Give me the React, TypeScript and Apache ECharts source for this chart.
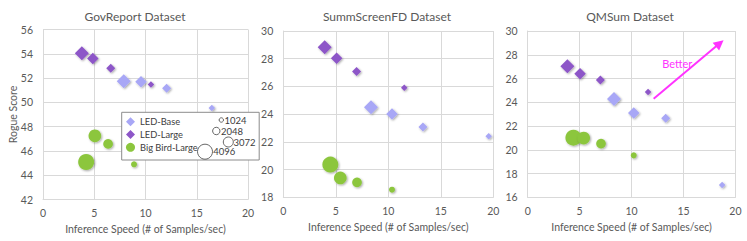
import React, { useEffect, useRef } from 'react';
import * as echarts from 'echarts';

const FONT = 'Lato';
const TXT = '#595959';
const GRIDC = '#d9d9d9';

const C_BASE = '#a8a7f6';
const C_LARGE = '#8d56c8';
const C_BB = '#8cc63e';

const SIZES = [4096, 3072, 2048, 1024];
const SERIES_NAMES = ['LED-Base', 'LED-Large', 'Big Bird-Large'];
const TITLES = ['GovReport Dataset', 'SummScreenFD Dataset', 'QMSum Dataset'];
const X_NAME = 'Inference Speed (# of Samples/sec)';
const Y_NAME = 'Rogue Score';
const Y_RANGES = [[42, 56], [18, 30], [16, 30]];

// GovReport
const govBase = [[7.88, 51.74], [9.56, 51.69], [12.06, 51.16], [16.47, 49.54]];
const govLarge = [[3.79, 54.05], [4.86, 53.62], [6.61, 52.81], [10.53, 51.47]];
const govBB = [[4.21, 45.09], [5.06, 47.24], [6.35, 46.58], [8.88, 44.9]];
// SummScreenFD
const ssBase = [[8.35, 24.49], [10.35, 24.01], [13.3, 23.07], [19.56, 22.4]];
const ssLarge = [[3.94, 28.82], [5.08, 28.03], [6.98, 27.07], [11.52, 25.91]];
const ssBB = [[4.48, 20.36], [5.43, 19.4], [7.02, 19.08], [10.35, 18.55]];
// QMSum
const qmBase = [[8.31, 24.28], [10.21, 23.1], [13.29, 22.65], [18.72, 17.04]];
const qmLarge = [[3.82, 27.03], [5.04, 26.41], [7.0, 25.88], [11.59, 24.87]];
const qmBB = [[4.4, 21.02], [5.39, 20.99], [7.06, 20.52], [10.21, 19.53]];

const BETTER_ARROW = [[12.13, 24.3], [18.49, 28.96]];
const BETTER_LABEL = [14.4, 27.3];
const BETTER_TEXT = 'Better';

const DIAMOND_PX: Record<number, number> = { 4096: 14, 3072: 11.5, 2048: 9, 1024: 6.5 };
const CIRCLE_PX: Record<number, number> = { 4096: 16, 3072: 12.7, 2048: 9.7, 1024: 6 };

const PANELS = [
  [govBase, govLarge, govBB],
  [ssBase, ssLarge, ssBB],
  [qmBase, qmLarge, qmBB],
];

const GRIDS = [
  { left: 43, top: 29.5, width: 205, height: 170 },
  { left: 283.3, top: 31, width: 210, height: 166.3 },
  { left: 527.7, top: 31, width: 207.7, height: 166.3 },
];
const TITLE_X = [130, 382, 625];

const withSize = (pts: number[][]) => pts.map((p, i) => [p[0], p[1], SIZES[i]]);

export default function App() {
  const ref = useRef<HTMLDivElement>(null);
  useEffect(() => {
    if (!ref.current) return;
    const chart = echarts.init(ref.current, null, { renderer: 'svg' });
    const shadow = {
      shadowBlur: 2,
      shadowColor: 'rgba(0,0,0,0.35)',
      shadowOffsetX: 1,
      shadowOffsetY: 1,
    };
    const series: any[] = [];
    PANELS.forEach((panel, pi) => {
      const colors = [C_BASE, C_LARGE, C_BB];
      panel.forEach((pts, si) => {
        const isCircle = si === 2;
        const s: any = {
          type: 'scatter',
          name: SERIES_NAMES[si],
          xAxisIndex: pi,
          yAxisIndex: pi,
          symbol: isCircle ? 'circle' : 'diamond',
          symbolSize: (v: number[]) => (isCircle ? CIRCLE_PX[v[2]] : DIAMOND_PX[v[2]]),
          itemStyle: { color: colors[si], opacity: 1, ...shadow },
          data: withSize(pts),
          z: si === 0 ? 2 : 3,
        };
        if (pi === 2 && si === 0) {
          s.markLine = {
            silent: true,
            symbol: ['none', 'triangle'],
            symbolSize: 10,
            itemStyle: { color: '#ff33ff' },
            lineStyle: { color: '#ff33ff', width: 2, type: 'solid', opacity: 1 },
            label: { show: false },
            data: [[{ coord: BETTER_ARROW[0] }, { coord: BETTER_ARROW[1] }]],
          };
          s.markPoint = {
            silent: true,
            symbol: 'circle',
            symbolSize: 1,
            itemStyle: { color: 'rgba(0,0,0,0)', shadowBlur: 0, shadowColor: 'transparent' },
            label: {
              show: true,
              position: 'inside',
              formatter: BETTER_TEXT,
              color: '#ff33ff',
              fontSize: 11,
              fontFamily: FONT,
            },
            data: [{ coord: BETTER_LABEL }],
          };
        }
        series.push(s);
      });
    });

    const bubbleLegend = [
      { r: 2.2, cx: 221.3, cy: 120, tx: 224.5 },
      { r: 3.7, cx: 216.3, cy: 131, tx: 221 },
      { r: 5, cx: 228.3, cy: 142, tx: 233.5 },
      { r: 7.5, cx: 205, cy: 151.7, tx: 213.3 },
    ];
    const graphic: any[] = [
      {
        type: 'rect',
        shape: { x: 121.7, y: 112.3, width: 137.5, height: 47.7 },
        style: { fill: '#ffffff', stroke: '#8c8c8c', lineWidth: 1 },
        z: 20,
        silent: true,
      },
    ];
    bubbleLegend.forEach((b, i) => {
      graphic.push({
        type: 'circle',
        shape: { cx: b.cx, cy: b.cy, r: b.r },
        style: { fill: '#ffffff', stroke: '#404040', lineWidth: 0.8 },
        z: 22,
        silent: true,
      });
      graphic.push({
        type: 'text',
        x: b.tx,
        y: b.cy,
        style: {
          text: String(SIZES[3 - i]),
          fill: '#404040',
          fontSize: 9.5,
          fontFamily: FONT,
          verticalAlign: 'middle',
          align: 'left',
        },
        z: 22,
        silent: true,
      });
    });

    const axisLabel = { color: TXT, fontSize: 10.5, fontFamily: FONT };
    chart.setOption({
      animation: false,
      textStyle: { fontFamily: FONT },
      title: TITLES.map((t, i) => ({
        text: t,
        left: TITLE_X[i],
        top: 5,
        textAlign: 'center',
        textStyle: { color: TXT, fontSize: 12, fontWeight: 'normal', fontFamily: FONT },
      })),
      grid: GRIDS,
      xAxis: GRIDS.map((_, i) => ({
        type: 'value',
        gridIndex: i,
        min: 0,
        max: 20,
        interval: 5,
        axisLine: { show: true, lineStyle: { color: GRIDC } },
        axisTick: { show: false },
        splitLine: { show: true, lineStyle: { color: GRIDC } },
        axisLabel: { ...axisLabel, margin: 8 },
        name: X_NAME,
        nameLocation: 'middle',
        nameGap: 24,
        nameTextStyle: { color: TXT, fontSize: 10.5, fontFamily: FONT },
      })),
      yAxis: GRIDS.map((_, i) => ({
        type: 'value',
        gridIndex: i,
        min: Y_RANGES[i][0],
        max: Y_RANGES[i][1],
        interval: 2,
        axisLine: { show: true, lineStyle: { color: GRIDC } },
        axisTick: { show: false },
        splitLine: { show: true, lineStyle: { color: GRIDC } },
        axisLabel: { ...axisLabel, margin: 10 },
        name: i === 0 ? Y_NAME : '',
        nameLocation: 'middle',
        nameGap: 25,
        nameMoveOverlap: false,
        nameTextStyle: { color: TXT, fontSize: 10.5, fontFamily: FONT },
      })),
      legend: {
        data: SERIES_NAMES,
        orient: 'vertical',
        left: 126,
        top: 117.2,
        padding: 0,
        itemWidth: 9,
        itemHeight: 9,
        itemGap: 3.8,
        z: 21,
        textStyle: { color: '#404040', fontSize: 9.3, fontFamily: FONT },
        selectedMode: false,
      },
      graphic,
      series,
    });
    return () => chart.dispose();
  }, []);
  return (
    <div
      ref={ref}
      style={{ position: 'fixed', left: 0, top: 0, width: 747, height: 241, background: '#fff' }}
    />
  );
}
